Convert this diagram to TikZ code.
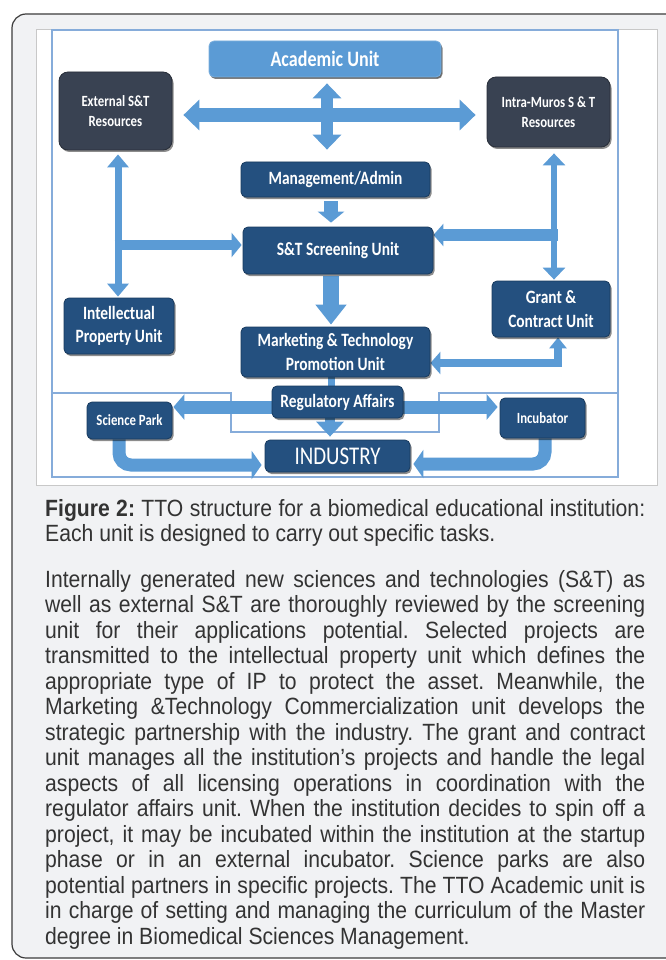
\documentclass[tikz,border=0pt]{standalone}
\usepackage{fontspec}
\setmainfont{Liberation Sans}
\newfontfamily\bodyfont[FakeStretch=0.9]{Liberation Sans}
\newfontfamily\diagfont[FakeStretch=0.82]{Carlito}
\usetikzlibrary{arrows.meta,shadows}
\definecolor{cardfill}{HTML}{F1F2F4}
\definecolor{cardedge}{HTML}{3C3C3C}
\definecolor{paneledge}{HTML}{C8C8C8}
\definecolor{frameblue}{HTML}{86ACDA}
\definecolor{arrowblue}{HTML}{5B9BD5}
\definecolor{boxblue}{HTML}{24507F}
\definecolor{boxedge}{HTML}{183A5E}
\definecolor{slate}{HTML}{394252}
\definecolor{acadblue}{HTML}{5B9BD5}
\definecolor{bodytext}{HTML}{333333}
\pgfdeclarelayer{back}
\pgfdeclarelayer{arrowlayer}
\pgfsetlayers{back,arrowlayer,main}
\begin{document}
\begin{tikzpicture}[x=1pt,y=-1pt,
  card/.style={draw=cardedge, line width=1.2pt, fill=cardfill, rounded corners=14pt},
  panel/.style={draw=paneledge, line width=0.8pt, fill=white},
  frameline/.style={draw=frameblue, line width=1.2pt},
  arr/.style={draw=arrowblue},
  unitbox/.style={draw=boxedge, line width=0.8pt, fill=boxblue, rounded corners=5pt,
    inner sep=0pt, align=center, text=white,
    font={\diagfont\bfseries\fontsize{18.8}{23.5}\selectfont},
    drop shadow={shadow xshift=1.5pt, shadow yshift=-2pt, opacity=0.45, fill=black}},
  smallbox/.style={unitbox, font={\diagfont\bfseries\fontsize{15.6}{20.5}\selectfont}},
  slatebox/.style={smallbox, fill=slate, draw=slate!70!black, rounded corners=9pt},
  acadbox/.style={unitbox, fill=acadblue, draw=acadblue!80!white,
    font={\diagfont\bfseries\fontsize{22}{26}\selectfont},
    drop shadow={shadow xshift=1pt, shadow yshift=-1.5pt, opacity=0.25, fill=black}},
  indbox/.style={unitbox, font={\diagfont\fontsize{25.5}{30}\selectfont}},
  bodytextstyle/.style={anchor=base west, inner sep=0pt, text=bodytext}
]
\useasboundingbox (0,0) rectangle (665,960);
\clip (0,0) rectangle (665,960);

% ---------- boxes ----------
\node[acadbox, minimum width=232pt, minimum height=36pt] (acad) at (325,59) {Academic Unit};
\node[slatebox, minimum width=113pt, minimum height=78pt] (ext) at (115.5,111) {External S\&T\\Resources};
\node[slatebox, minimum width=123pt, minimum height=70pt] (intra) at (548.5,112) {Intra-Muros S \& T\\Resources};
\node[unitbox, minimum width=189pt, minimum height=35pt] (mgmt) at (335.5,179.5) {Management/Admin};
\node[unitbox, minimum width=190pt, minimum height=47pt] (screen) at (338,250.5) {S\&T Screening Unit};
\node[unitbox, minimum width=110pt, minimum height=56pt] (ip) at (119,326) {Intellectual\\Property Unit};
\node[unitbox, minimum width=118pt, minimum height=56pt] (grant) at (551,309) {Grant \&\\Contract Unit};
\node[unitbox, minimum width=189pt, minimum height=50pt] (mkt) at (335.5,352) {Marketing \& Technology\\Promotion Unit};
\node[unitbox, minimum width=131pt, minimum height=32pt] (reg) at (337.5,402) {Regulatory Affairs};
\node[smallbox, minimum width=85pt, minimum height=37pt] (sci) at (129.5,420.5) {Science Park};
\node[smallbox, minimum width=85pt, minimum height=40pt] (incub) at (542.5,418) {Incubator};
\node[indbox, minimum width=145pt, minimum height=32pt] (ind) at (337.5,456) {INDUSTRY};

% ---------- background: card, panel, frame ----------
\begin{pgfonlayer}{back}
  \fill[white] (0,0) rectangle (665,960);
  \draw[card] (12,14) rectangle (720,958);
  \draw[panel] (36,29) rectangle (657,485);
  \draw[frameline] (52,30) rectangle (618,477);
  \draw[frameline] (52,393) -- (231,393) -- (231,432) -- (439,432) -- (439,393) -- (618,393);
\end{pgfonlayer}

% ---------- connectors ----------
\begin{pgfonlayer}{arrowlayer}
  \coordinate (jl) at (114.5,245);
  \coordinate (jr) at (557.5,235);
  % External <-> Intra-Muros
  \draw[arr, line width=14pt, {Triangle[width=30pt,length=16pt]}-{Triangle[width=30pt,length=16pt]}]
    ([shift={(11,4)}]ext.east) -- ([shift={(-11,3)}]intra.west);
  % Academic <-> Management
  \draw[arr, line width=12pt, {Triangle[width=28pt,length=15pt]}-{Triangle[width=28pt,length=15pt]}]
    ([shift={(2,6)}]acad.south) -- ([shift={(-8.5,-12)}]mgmt.north);
  % Management -> Screening
  \draw[arr, line width=14pt, -{Triangle[width=26pt,length=11pt]}]
    ([shift={(-4.5,4)}]mgmt.south) -- ([shift={(-7,-4)}]screen.north);
  % External <-> IP
  \draw[arr, line width=7pt, {Triangle[width=21pt,length=13pt]}-{Triangle[width=21pt,length=13pt]}]
    ([shift={(2.5,4)}]ext.south) -- ([shift={(-1,-1)}]ip.north);
  \draw[arr, line width=10pt, -{Triangle[width=24pt,length=10pt]}]
    (jl) -- ([shift={(-1,-5.5)}]screen.west);
  % Intra-Muros <-> Grant
  \draw[arr, line width=6.5pt, {Triangle[width=22pt,length=12pt]}-{Triangle[width=22pt,length=12pt]}]
    ([shift={(5.5,6)}]intra.south) -- ([shift={(3,-1)}]grant.north);
  \draw[arr, line width=12pt, -{Triangle[width=22pt,length=10pt]}]
    (jr) -- ([shift={(0,-15.5)}]screen.east);
  % Screening -> Marketing
  \draw[arr, line width=16pt, -{Triangle[width=30pt,length=20pt]}]
    ([shift={(-7,2)}]screen.south) -- ([shift={(-4.5,-2)}]mkt.north);
  % Marketing <-> Grant
  \draw[arr, line width=8pt, {Triangle[width=22pt,length=10pt]}-{Triangle[width=17pt,length=11pt]}]
    ([shift={(0,11)}]mkt.east) -| ([shift={(7,0)}]grant.south);
  % Marketing - Regulatory
  \draw[arr, line width=7pt] ([shift={(-4.5,0)}]mkt.south) -- ([shift={(-6.5,0)}]reg.north);
  % Science Park <-> Incubator (through Regulatory Affairs)
  \draw[arr, line width=13pt, {Triangle[width=25pt,length=11pt]}-{Triangle[width=25pt,length=11pt]}]
    ([shift={(1,-13.5)}]sci.east) -- ([shift={(-2,-11)}]incub.west);
  % Regulatory -> Industry
  \draw[arr, line width=10pt, -{Triangle[width=27pt,length=15pt]}]
    ([shift={(-7.5,0)}]reg.south) -- ([shift={(-7.5,-3)}]ind.north);
  % Science Park -> Industry
  \draw[arr, line width=13pt, rounded corners=12pt, -{Triangle[width=28pt,length=10pt]}]
    ([shift={(-10.5,0)}]sci.south) |- ([shift={(-3,9)}]ind.west);
  % Incubator -> Industry
  \draw[arr, line width=13pt, rounded corners=12pt, -{Triangle[width=28pt,length=10pt]}]
    ([shift={(2.5,0)}]incub.south) |- ([shift={(3,8)}]ind.east);
\end{pgfonlayer}

% ---------- caption and body text ----------
\node[bodytextstyle] (caption) at (45,516) {\parbox[t]{600pt}{\bodyfont\fontsize{23.5}{25}\selectfont
  \frenchspacing\hyphenpenalty=10000 \tolerance=10000
  \textbf{Figure 2:} TTO structure for a biomedical educational institution:\linebreak
  Each unit is designed to carry out specific tasks.}};
\node[bodytextstyle] (body) at (45,587) {\parbox[t]{600pt}{\bodyfont\fontsize{23.5}{25.5}\selectfont
  \frenchspacing\hyphenpenalty=10000 \tolerance=10000
  Internally generated new sciences and technologies (S\&T) as\linebreak
  well as external S\&T are thoroughly reviewed by the screening\linebreak
  unit for their applications potential. Selected projects are\linebreak
  transmitted to the intellectual property unit which defines the\linebreak
  appropriate type of IP to protect the asset. Meanwhile, the\linebreak
  Marketing \&Technology Commercialization unit develops the\linebreak
  strategic partnership with the industry. The grant and contract\linebreak
  unit manages all the institution’s projects and handle the legal\linebreak
  aspects of all licensing operations in coordination with the\linebreak
  regulator affairs unit. When the institution decides to spin off a\linebreak
  project, it may be incubated within the institution at the startup\linebreak
  phase or in an external incubator. Science parks are also\linebreak
  potential partners in specific projects. The TTO Academic unit is\linebreak
  in charge of setting and managing the curriculum of the Master\linebreak
  degree in Biomedical Sciences Management.}};
\end{tikzpicture}
\end{document}
